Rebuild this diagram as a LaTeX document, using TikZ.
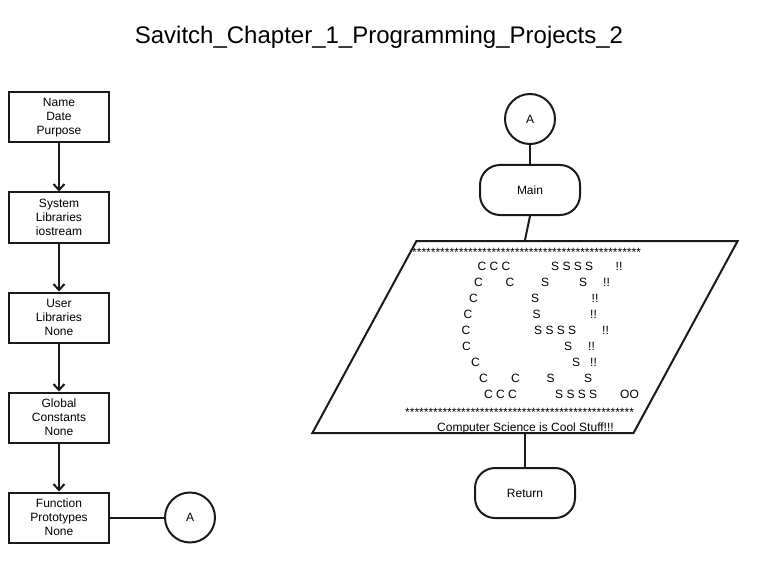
\documentclass[tikz,border=0pt]{standalone}
\usepackage{fontspec}
\setmainfont{Liberation Sans}
\usetikzlibrary{shapes.geometric,shapes.misc,arrows.meta,positioning}

\begin{document}
\begin{tikzpicture}[
    x=1pt, y=-1pt,
    node distance=48pt and 54pt,
    font=\fontsize{12}{14}\selectfont,
    box/.style={
        rectangle, draw=lineBlack, line width=2pt,
        minimum width=100pt, minimum height=50pt, align=center, inner sep=2pt
    },
    termBox/.style={box, rounded corners=20pt},
    connector/.style={circle, draw=lineBlack, line width=2pt, minimum size=50pt, inner sep=0pt},
    ioBox/.style={
        trapezium, draw=lineBlack, line width=2pt, inner sep=2pt,
        trapezium left angle=61.3, trapezium right angle=118.7, trapezium stretches,
        minimum width=426pt, minimum height=192pt
    },
    arrow/.style={-{Straight Barb[length=6pt,width=11pt]}, line width=2pt, draw=lineBlack},
    link/.style={line width=2pt, draw=lineBlack},
    art/.style={anchor=base west, inner sep=0pt}
]

    \definecolor{lineBlack}{HTML}{1A1A1A}

    \useasboundingbox (0,0) rectangle (757,564);

    \node (title) at (379,37) {\fontsize{24}{28}\selectfont Savitch\_Chapter\_1\_Programming\_Projects\_2};

    % left column
    \node[box] (headerBox) at (59,117.5) {Name\\Date\\Purpose};
    \node[box, below=of headerBox] (sysLib) {System\\Libraries\\iostream};
    \node[box, below=of sysLib] (userLib) {User\\Libraries\\None};
    \node[box, below=of userLib] (globalConst) {Global\\Constants\\None};
    \node[box, below=of globalConst] (protoBox) {Function\\Prototypes\\None};
    \node[connector, right=of protoBox] (offPageA) {A};

    % main
    \node[connector] (onPageA) at (530,119) {A};
    \node[termBox, below=19pt of onPageA] (mainTerm) {Main};
    \node[ioBox] (output) at (525,337) {\phantom{M}};
    \node[termBox, below=33pt of output] (returnTerm) {Return};

    \node[art] (starsTop) at (412,256) {*************************************************};
    \foreach \px/\py/\txt [count=\k] in {
        477.5/270.5/{C C C}, 551/270.5/{S S S S}, 615.5/270.5/{!!},
        474/286.5/C, 505.5/286.5/C, 541/286.5/S, 579/286.5/S, 603/286.5/{!!},
        469/302.5/C, 531/302.5/S, 591.5/302.5/{!!},
        463.5/318.5/C, 532.5/318.5/S, 590/318.5/{!!},
        461.5/334.5/C, 534/334.5/{S S S S}, 602/334.5/{!!},
        462/350.5/C, 564/350.5/S, 588/350.5/{!!},
        471/366.5/C, 572/366.5/S, 590/366.5/{!!},
        479/382.5/C, 511/382.5/C, 546.5/382.5/S, 584/382.5/S,
        484/398.5/{C C C}, 555/398.5/{S S S S}, 620/398.5/{OO}}
        \node[art] (art\k) at (\px,\py) {\txt};
    \node[art] (starsBottom) at (405,416) {*************************************************};
    \node[art] (coolText) at (437,431) {Computer Science is Cool Stuff!!!};

    \draw[arrow] (headerBox) -- (sysLib);
    \draw[arrow] (sysLib) -- (userLib);
    \draw[arrow] (userLib) -- (globalConst);
    \draw[arrow] (globalConst) -- (protoBox);
    \draw[link] (protoBox) -- (offPageA);

    \draw[link] (onPageA) -- (mainTerm);
    \draw[link] (mainTerm.south) -- (output.north);
    \draw[link] (output.south) -- (returnTerm);

\end{tikzpicture}
\end{document}
